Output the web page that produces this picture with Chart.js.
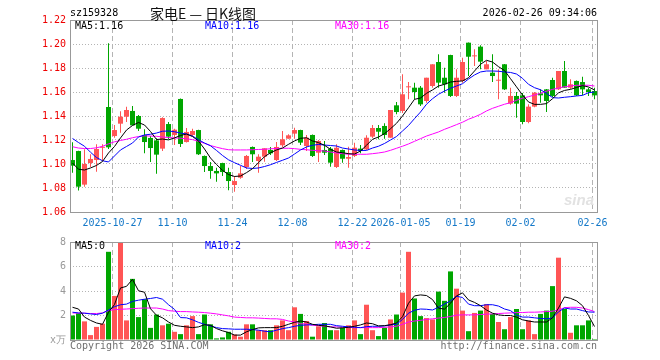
<!DOCTYPE html>
<html>
<head>
<meta charset="utf-8">
<script src="https://cdn.jsdelivr.net/npm/chart.js"></script>
<style>
  body { margin: 0; background: #fff; width: 660px; height: 360px; overflow: hidden; position: relative;
         font-family: "DejaVu Sans Mono", monospace; font-size: 10px; }
  .t { position: absolute; white-space: pre; line-height: 12px; }
  #title { font-family: "Noto Sans CJK SC", sans-serif; font-size: 14px; line-height: 16px; color: #111; }
  #c1 { position: absolute; left: 0; top: 0; }
  #c2 { position: absolute; left: 0; top: 232px; }
</style>
</head>
<body>
<canvas id="c1" width="660" height="235"></canvas>
<canvas id="c2" width="660" height="128"></canvas>

<div class="t" style="left:70px;top:7px;color:#000">sz159328</div>
<div class="t" id="title" style="left:150px;top:5px">家电E — 日K线图</div>
<div class="t" style="right:63px;top:7px;color:#000">2026-02-26 09:34:06</div>

<div class="t" style="left:75px;top:20px;color:#000">MA5:1.16</div>
<div class="t" style="left:205px;top:20px;color:#0000ff">MA10:1.16</div>
<div class="t" style="left:335px;top:20px;color:#ff00ff">MA30:1.16</div>

<div class="t" style="left:75px;top:240px;color:#000">MA5:0</div>
<div class="t" style="left:205px;top:240px;color:#0000ff">MA10:2</div>
<div class="t" style="left:335px;top:240px;color:#ff00ff">MA30:2</div>

<div class="t" style="left:70px;top:340px;color:#707070">Copyright 2026 SINA.COM</div>
<div class="t" style="right:63px;top:340px;color:#707070">http://finance.sina.com.cn</div>

<script>
// daily K line, 88 sessions (2025-10-16 .. 2026-02-26)
const opens = [1.1033,1.1108,1.0828,1.1008,1.1033,1.1135,1.1475,1.1233,1.1336,1.1394,
  1.1442,1.1400,1.1242,1.1217,1.1197,1.1128,1.1333,1.1242,1.1542,1.1183,
  1.1242,1.1283,1.1067,1.0983,1.0942,1.1008,1.0933,1.0825,1.0886,1.0975,
  1.1142,1.1025,1.1061,1.1117,1.1033,1.1156,1.1211,1.1253,1.1283,1.1150,
  1.1242,1.1094,1.1117,1.1128,1.0975,1.1117,1.1044,1.1067,1.1128,1.1122,
  1.1228,1.1300,1.1317,1.1219,1.1489,1.1442,1.1639,1.1636,1.1636,1.1525,
  1.1650,1.1850,1.1719,1.1908,1.1567,1.1692,1.2011,1.1897,1.1978,1.1789,
  1.1761,1.1694,1.1831,1.1503,1.1567,1.1572,1.1350,1.1478,1.1589,1.1622,
  1.1700,1.1622,1.1775,1.1636,1.1692,1.1683,1.1622,1.1608];
const highs = [1.1181,1.1110,1.1123,1.1081,1.1164,1.1165,1.2006,1.1325,1.1439,1.1478,
  1.1483,1.1408,1.1289,1.1233,1.1215,1.1390,1.1350,1.1294,1.1545,1.1300,
  1.1294,1.1285,1.1070,1.1017,1.0969,1.1010,1.0969,1.0900,1.0983,1.1075,
  1.1145,1.1081,1.1131,1.1142,1.1183,1.1275,1.1247,1.1303,1.1285,1.1242,
  1.1245,1.1200,1.1192,1.1142,1.1164,1.1120,1.1144,1.1178,1.1158,1.1239,
  1.1325,1.1325,1.1339,1.1450,1.1517,1.1747,1.1683,1.1678,1.1650,1.1719,
  1.1831,1.1914,1.1803,1.1910,1.1789,1.1886,1.2013,1.1956,1.1989,1.1858,
  1.1914,1.1789,1.1833,1.1636,1.1600,1.1592,1.1497,1.1600,1.1622,1.1625,
  1.1719,1.1775,1.1858,1.1706,1.1695,1.1728,1.1636,1.1636];
const lows = [1.0928,1.0779,1.0811,1.0975,1.0936,1.1025,1.1125,1.1219,1.1261,1.1350,
  1.1322,1.1275,1.1089,1.1017,1.0919,1.1108,1.1206,1.1158,1.1142,1.1180,
  1.1233,1.1075,1.0933,1.0878,1.0853,1.0900,1.0781,1.0769,1.0878,1.0958,
  1.1017,1.0928,1.1019,1.1075,1.1025,1.1142,1.1211,1.1211,1.1158,1.1108,
  1.1058,1.1017,1.1075,1.0978,1.0967,1.1011,1.0969,1.1058,1.1089,1.1117,
  1.1217,1.1206,1.1211,1.1219,1.1414,1.1425,1.1539,1.1539,1.1483,1.1511,
  1.1636,1.1636,1.1594,1.1558,1.1558,1.1678,1.1733,1.1817,1.1789,1.1789,
  1.1683,1.1539,1.1617,1.1494,1.1386,1.1331,1.1339,1.1472,1.1511,1.1433,
  1.1558,1.1617,1.1636,1.1625,1.1567,1.1572,1.1567,1.1539];
const closes = [1.0986,1.0811,1.1000,1.1042,1.1125,1.1142,1.1139,1.1283,1.1394,1.1450,
  1.1322,1.1294,1.1183,1.1133,1.1078,1.1383,1.1228,1.1286,1.1167,1.1267,
  1.1275,1.1081,1.0983,1.0942,1.0922,1.0933,1.0858,1.0858,1.0922,1.1067,
  1.1081,1.1061,1.1131,1.1089,1.1142,1.1206,1.1239,1.1283,1.1178,1.1219,
  1.1067,1.1192,1.1094,1.1011,1.1136,1.1044,1.1058,1.1136,1.1108,1.1219,
  1.1300,1.1269,1.1242,1.1450,1.1433,1.1581,1.1647,1.1600,1.1497,1.1719,
  1.1831,1.1678,1.1664,1.1567,1.1719,1.1850,1.1894,1.1900,1.1853,1.1831,
  1.1733,1.1700,1.1622,1.1567,1.1503,1.1350,1.1478,1.1594,1.1572,1.1525,
  1.1567,1.1775,1.1636,1.1664,1.1572,1.1622,1.1600,1.1572];

const ma5 = [1.1008,1.0956,1.0950,1.0967,1.0988,1.1021,1.1092,1.1146,1.1217,1.1283,
  1.1321,1.1346,1.1325,1.1271,1.1204,1.1208,1.1201,1.1217,1.1238,1.1250,
  1.1229,1.1192,1.1125,1.1050,1.0996,1.0947,1.0912,1.0896,1.0900,1.0928,
  1.0961,1.1011,1.1061,1.1094,1.1117,1.1133,1.1164,1.1192,1.1214,1.1219,
  1.1192,1.1178,1.1156,1.1122,1.1100,1.1094,1.1086,1.1083,1.1108,1.1156,
  1.1206,1.1225,1.1253,1.1294,1.1339,1.1400,1.1469,1.1539,1.1550,1.1589,
  1.1617,1.1650,1.1664,1.1683,1.1689,1.1692,1.1719,1.1775,1.1831,1.1864,
  1.1850,1.1811,1.1779,1.1711,1.1643,1.1575,1.1517,1.1497,1.1497,1.1503,
  1.1544,1.1593,1.1613,1.1622,1.1638,1.1653,1.1642,1.1617];
const ma10 = [1.1213,1.1179,1.1148,1.1098,1.1054,1.1027,1.1017,1.1067,1.1117,1.1146,
  1.1175,1.1225,1.1242,1.1248,1.1258,1.1273,1.1275,1.1269,1.1258,1.1250,
  1.1233,1.1202,1.1175,1.1152,1.1113,1.1071,1.1035,1.1011,1.0989,1.0967,
  1.0963,1.0967,1.0979,1.0994,1.1013,1.1031,1.1050,1.1083,1.1117,1.1142,
  1.1156,1.1163,1.1158,1.1154,1.1150,1.1133,1.1125,1.1117,1.1113,1.1113,
  1.1133,1.1148,1.1171,1.1200,1.1229,1.1275,1.1321,1.1378,1.1433,1.1498,
  1.1544,1.1581,1.1608,1.1631,1.1650,1.1669,1.1708,1.1742,1.1767,1.1775,
  1.1775,1.1773,1.1767,1.1763,1.1750,1.1714,1.1664,1.1636,1.1619,1.1589,
  1.1553,1.1550,1.1556,1.1561,1.1567,1.1572,1.1594,1.1600];
const ma30 = [1.1144,1.1133,1.1129,1.1129,1.1135,1.1147,1.1168,1.1185,1.1196,1.1206,
  1.1219,1.1229,1.1235,1.1233,1.1231,1.1225,1.1221,1.1217,1.1215,1.1210,
  1.1203,1.1189,1.1172,1.1154,1.1140,1.1128,1.1119,1.1117,1.1117,1.1117,
  1.1119,1.1121,1.1123,1.1127,1.1129,1.1131,1.1131,1.1128,1.1122,1.1119,
  1.1114,1.1111,1.1108,1.1100,1.1092,1.1086,1.1081,1.1081,1.1081,1.1081,
  1.1086,1.1092,1.1100,1.1114,1.1131,1.1148,1.1167,1.1189,1.1211,1.1233,
  1.1250,1.1267,1.1289,1.1308,1.1328,1.1348,1.1373,1.1392,1.1414,1.1442,
  1.1464,1.1481,1.1498,1.1511,1.1531,1.1548,1.1561,1.1575,1.1589,1.1606,
  1.1622,1.1633,1.1644,1.1650,1.1656,1.1656,1.1656,1.1650];

// volume in 万
const vols = [2.00,2.19,1.52,0.40,1.07,1.33,7.20,3.60,7.97,1.60,
  4.99,1.87,3.33,0.99,2.08,1.20,1.33,0.67,0.48,1.20,
  1.95,0.48,2.08,1.28,0.13,0.21,0.67,0.45,0.27,1.28,
  1.28,0.80,0.80,0.80,1.20,1.60,0.80,2.67,2.13,1.55,
  0.27,1.12,1.39,0.80,0.80,1.01,1.20,1.60,0.48,2.88,
  0.80,0.32,1.01,1.68,2.08,3.87,7.20,3.39,1.95,1.79,
  1.68,3.95,3.20,5.60,4.19,2.40,0.72,2.21,2.40,2.93,
  2.13,1.47,0.88,1.87,2.53,0.88,1.60,0.48,2.13,2.40,
  4.40,6.72,2.53,0.59,1.20,1.20,1.60,0.08];
const volMa5 = [2.67,2.53,1.87,1.60,1.39,1.28,2.27,2.90,4.25,4.38,
  4.95,4.02,3.90,2.55,2.02,1.81,1.47,1.20,1.12,1.07,
  1.01,1.07,1.25,1.20,0.93,0.75,0.61,0.40,0.40,0.67,
  0.85,0.99,1.01,1.01,1.01,1.12,1.28,1.44,1.55,1.47,
  1.28,1.20,1.15,1.07,0.96,0.99,1.04,1.12,1.23,1.39,
  1.33,1.15,1.17,1.25,1.39,1.90,3.00,3.60,3.68,3.63,
  3.30,2.60,2.52,3.00,3.60,3.85,3.27,3.07,2.80,2.45,
  2.19,2.05,2.00,2.00,1.87,1.65,1.55,1.47,1.47,1.47,
  1.81,2.61,3.52,3.40,3.20,2.80,2.00,1.10];
const volMa10 = [2.27,2.21,2.19,2.13,2.08,2.19,2.45,2.72,2.88,2.93,
  3.15,3.25,3.33,3.39,3.47,3.33,2.88,2.50,1.83,1.81,
  1.65,1.44,1.28,1.15,1.01,0.93,0.91,0.88,0.88,0.88,
  0.85,0.80,0.72,0.67,0.80,0.93,1.01,1.12,1.20,1.23,
  1.25,1.28,1.28,1.28,1.17,1.12,1.07,1.04,1.01,1.09,
  1.12,1.12,1.15,1.23,1.28,1.68,2.19,2.43,2.53,2.51,
  2.45,2.67,2.93,3.20,3.57,3.47,2.93,2.80,2.80,2.88,
  2.88,2.77,2.53,2.40,2.03,1.87,1.87,1.81,1.76,1.73,
  1.80,2.30,2.61,2.53,2.53,2.40,2.29,2.27];
const volMa30 = [2.21,2.19,2.19,2.16,2.16,2.21,2.40,2.48,2.51,2.53,
  2.56,2.59,2.61,2.61,2.61,2.53,2.40,2.35,2.32,2.32,
  2.29,2.27,2.24,2.19,2.13,2.05,1.97,1.87,1.84,1.81,
  1.81,1.79,1.76,1.73,1.73,1.68,1.55,1.48,1.33,1.30,
  1.20,1.17,1.12,1.07,1.07,1.04,1.04,1.01,1.01,1.01,
  1.01,1.01,1.04,1.07,1.12,1.28,1.47,1.55,1.60,1.68,
  1.73,1.79,1.84,1.92,2.03,2.05,2.05,2.05,2.08,2.11,
  2.13,2.16,2.19,2.21,2.24,2.24,2.27,2.27,2.29,2.32,
  2.35,2.45,2.64,2.67,2.67,2.61,2.48,2.32];

const tickIdx = [7, 17, 27, 37, 47, 55, 65, 75, 87];
const tickLabels = ['2025-10-27', '11-10', '11-24', '12-08', '12-22', '2026-01-05', '01-19', '02-02', '02-26'];
const priceTicks = [1.06, 1.08, 1.10, 1.12, 1.14, 1.16, 1.18, 1.20, 1.22];
const volTicks = [0, 2, 4, 6, 8];

const RED = '#ff5555', GREEN = '#00a600';
const mono = { family: "'DejaVu Sans Mono', monospace", size: 10 };
const colors = closes.map((c, i) => c >= opens[i] ? RED : GREEN);
const pts = arr => arr.map((v, i) => ({ x: i, y: v }));

// gray frame round the plot area
const frame = {
  id: 'frame',
  afterDatasetsDraw(chart) {
    const a = chart.chartArea, ctx = chart.ctx;
    ctx.save();
    ctx.strokeStyle = '#999';
    ctx.lineWidth = 1;
    ctx.strokeRect(a.left + 0.5, a.top + 0.5, a.right - a.left - 1, a.bottom - a.top);
    ctx.restore();
  }
};
const watermark = {
  id: 'watermark',
  beforeDatasetsDraw(chart) {
    const ctx = chart.ctx;
    ctx.save();
    ctx.fillStyle = '#e2e2e2';
    ctx.font = 'italic bold 15px "Liberation Sans", sans-serif';
    ctx.fillText('sina', 564, 205);
    ctx.restore();
  }
};

function xAxis(show) {
  return {
    type: 'linear', bounds: 'data', offset: false,
    min: -2.5 / 6, max: 88 - 2.5 / 6,
    afterBuildTicks: s => { s.ticks = tickIdx.map(i => ({ value: i - 1 / 3 })); },
    afterFit: s => { s.height = show ? 23 : 0; },
    ticks: { display: show, autoSkip: false, maxRotation: 0, minRotation: 0, padding: 5,
             color: '#1478c8', font: mono, callback: (v, k) => tickLabels[k] },
    grid: { color: '#b4b4b4', drawTicks: false, offset: false },
    border: { display: false, dash: [5, 3] }
  };
}

function line(data, color) {
  return { type: 'line', data: pts(data), borderColor: color, borderWidth: 1,
           pointRadius: 0, tension: 0, order: 0 };
}

const common = { responsive: false, animation: false, events: [],
                 plugins: { legend: { display: false }, tooltip: { enabled: false } } };

new Chart(document.getElementById('c1'), {
  type: 'bar',
  data: {
    datasets: [
      { data: closes.map((c, i) => ({ x: i, y: [lows[i], highs[i]] })), backgroundColor: colors,
        barThickness: 1, grouped: false, inflateAmount: 0, order: 2 },
      { data: closes.map((c, i) => ({ x: i, y: [Math.min(c, opens[i]), Math.max(c, opens[i])] })),
        backgroundColor: colors, barThickness: 5, minBarLength: 1, grouped: false, inflateAmount: 0, order: 1 },
      line(ma5, '#000000'),
      line(ma10, '#0000ff'),
      line(ma30, '#ff00ff')
    ]
  },
  options: Object.assign({}, common, {
    layout: { padding: { left: 0, right: 62, top: 20, bottom: 0 } },
    scales: {
      x: xAxis(true),
      y: {
        type: 'linear', bounds: 'data', min: 1.06, max: 1.22,
        afterBuildTicks: s => { s.ticks = priceTicks.map(v => ({ value: v })); },
        afterFit: s => { s.width = 70; },
        ticks: { padding: 4, color: '#ee0000', font: mono, callback: v => v.toFixed(2) },
        grid: { color: '#b4b4b4', drawTicks: false },
        border: { display: false, dash: [1, 2] }
      }
    }
  }),
  plugins: [watermark, frame]
});

new Chart(document.getElementById('c2'), {
  type: 'bar',
  data: {
    datasets: [
      { data: pts(vols), backgroundColor: colors, barThickness: 5, grouped: false, inflateAmount: 0, order: 1 },
      line(volMa5, '#000000'),
      line(volMa10, '#0000ff'),
      line(volMa30, '#ff00ff')
    ]
  },
  options: Object.assign({}, common, {
    layout: { padding: { left: 0, right: 62, top: 8, bottom: 20 } },
    scales: {
      x: xAxis(false),
      y: {
        type: 'linear', bounds: 'data', min: 0, max: 8,
        afterBuildTicks: s => { s.ticks = volTicks.map(v => ({ value: v })); },
        afterFit: s => { s.width = 70; },
        ticks: { padding: 4, color: '#999999', font: mono, callback: v => v === 0 ? 'x万' : String(v) },
        grid: { color: '#b4b4b4', drawTicks: false },
        border: { display: false, dash: [1, 2] }
      }
    }
  }),
  plugins: [frame]
});
</script>
</body>
</html>
